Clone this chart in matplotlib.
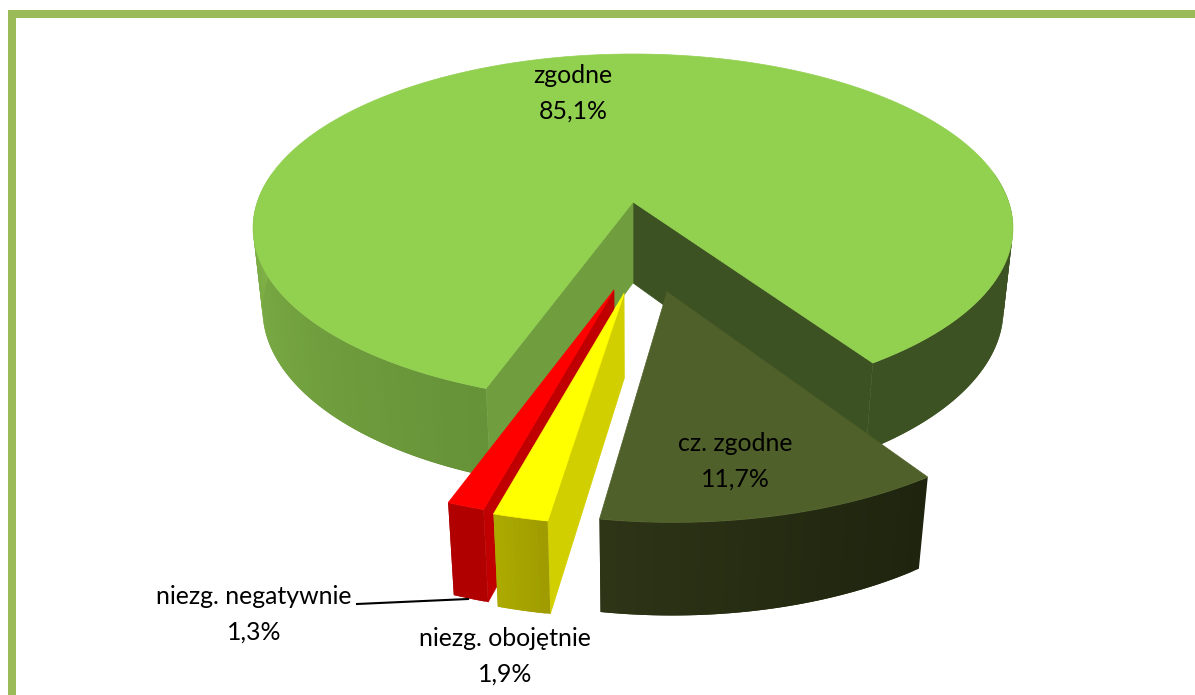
import numpy as np
import matplotlib
matplotlib.use('Agg')
import matplotlib.pyplot as plt
from matplotlib.patches import Rectangle

# pie data, clockwise from the cut
labels = ['cz. zgodne', 'niezg. obojętnie', 'niezg. negatywnie', 'zgodne']
values = [11.7, 1.9, 1.3, 85.1]
value_text = ['11,7%', '1,9%', '1,3%', '85,1%']

# camera for the tilted pie, in image pixels
CX = 633.0
D = 375.7
A = -139.93
B = 202.0
C = 0.1494
E = 0.025    # bottom disc sits a bit further away
H = 88.0     # thickness
START = -56.0


def top(u, v):
    w = 1 + C * v
    return CX + D * u / w, (A * v + B) / w


def bottom(u, v):
    w = 1 + C * v + E
    return CX + D * u / w, (A * v + B + H) / w


def disc(th, off=(0, 0), r=1.0):
    t = np.radians(th)
    return r * np.cos(t) + off[0], r * np.sin(t) + off[1]


def mix(c1, c2, f):
    return tuple((c1[i] + (c2[i] - c1[i]) * f) / 255 for i in range(3))


def wall(ax, th, off, c1, c2, z, r=1.0):
    # outer wall as strips so it can take a gradient, each one runs over
    # the next strip so no seams show
    n = len(th) - 1
    for i in range(n):
        u, v = disc(th[i:i + 3], off, r)
        xt, yt = top(u, v)
        xb, yb = bottom(u, v)
        col = mix(c1, c2, i / max(n - 1, 1))
        ax.fill(np.r_[xt, xb[::-1]], np.r_[yt, yb[::-1]],
                color=col, lw=0, zorder=z)


def cut(ax, th, off, col, z, r=1.0):
    # flat face from the slice centre to the rim
    u0, v0 = off
    u1, v1 = disc(np.array([th]), off, r)
    u1, v1 = u1[0], v1[0]
    xa, ya = top(u0, v0)
    xb, yb = top(u1, v1)
    xc, yc = bottom(u1, v1)
    xd, yd = bottom(u0, v0)
    ax.fill([xa, xb, xc, xd], [ya, yb, yc, yd], color=col, lw=0.5, zorder=z)


def face(ax, th, off, col, z, r=1.0):
    u, v = disc(th, off, r)
    x, y = top(np.r_[off[0], u], np.r_[off[1], v])
    ax.fill(x, y, color=col, lw=0.5, zorder=z)


fig = plt.figure(figsize=(11.95, 6.95), dpi=100)
ax = fig.add_axes([0, 0, 1, 1])
ax.set_xlim(0, 1195)
ax.set_ylim(695, 0)
ax.axis('off')

# frame
ax.add_patch(Rectangle((8, 10), 1187, 8, color='#9BBB59', lw=0))
ax.add_patch(Rectangle((8, 10), 8, 685, color='#9BBB59', lw=0))

# slice angles
sweep = np.array(values) * 3.6
ends = START - np.cumsum(sweep)
starts = np.r_[START, ends[:-1]]

# zgodne, the big slice
a0, a1 = starts[3], ends[3]
no_off = (0, 0)
cut(ax, a1, no_off, '#3D5222', 2)
cut(ax, a0, no_off, '#709E3F', 2)
th = np.linspace(a0, -190, 60)        # left side of the wall
wall(ax, th, no_off, (102, 146, 56), (130, 180, 72), 3)
th = np.linspace(a1 + 360, 10, 60)    # right side
wall(ax, th, no_off, (61, 82, 34), (61, 82, 34), 3)
face(ax, np.linspace(a0, a1, 300), no_off, '#92D050', 4)

# cz. zgodne
off = (0.0839, -0.49)
th = np.linspace(starts[0], ends[0] - 0.9, 40)
wall(ax, th, off, (30, 36, 14), (46, 52, 22), 5, 0.98)
face(ax, th, off, '#50602A', 6, 0.98)

# niezg. negatywnie, behind the yellow one
off = (-0.047, -0.48)
th = np.linspace(starts[2] - 0.8, ends[2] - 0.8, 12)
cut(ax, starts[2] - 0.8, off, '#C00000', 7, 0.98)
wall(ax, th, off, (176, 0, 0), (176, 0, 0), 7, 0.98)
face(ax, th, off, '#FF0000', 8, 0.98)

# niezg. obojętnie
off = (-0.022, -0.497)
th = np.linspace(starts[1] - 1.0, ends[1] - 1.0, 12)
cut(ax, starts[1] - 1.0, off, '#D2CF00', 9, 0.98)
wall(ax, th, off, (160, 156, 0), (172, 170, 0), 9, 0.98)
face(ax, th, off, '#FFFF00', 10, 0.98)

# leader line
ax.plot([357, 468], [604, 599], color='black', lw=1.5, zorder=11)

# labels
font = dict(family='Lato', fontsize=17.9, color='black', ha='center',
            va='center', linespacing=1.65, zorder=12)
ax.text(573, 93, labels[3] + '\n' + value_text[3], **font)
ax.text(735, 461, labels[0] + '\n' + value_text[0], **font)
ax.text(254, 614, labels[2] + '\n' + value_text[2], **font)
ax.text(505, 656, labels[1] + '\n' + value_text[1], **font)

fig.savefig('out.png', dpi=100)
